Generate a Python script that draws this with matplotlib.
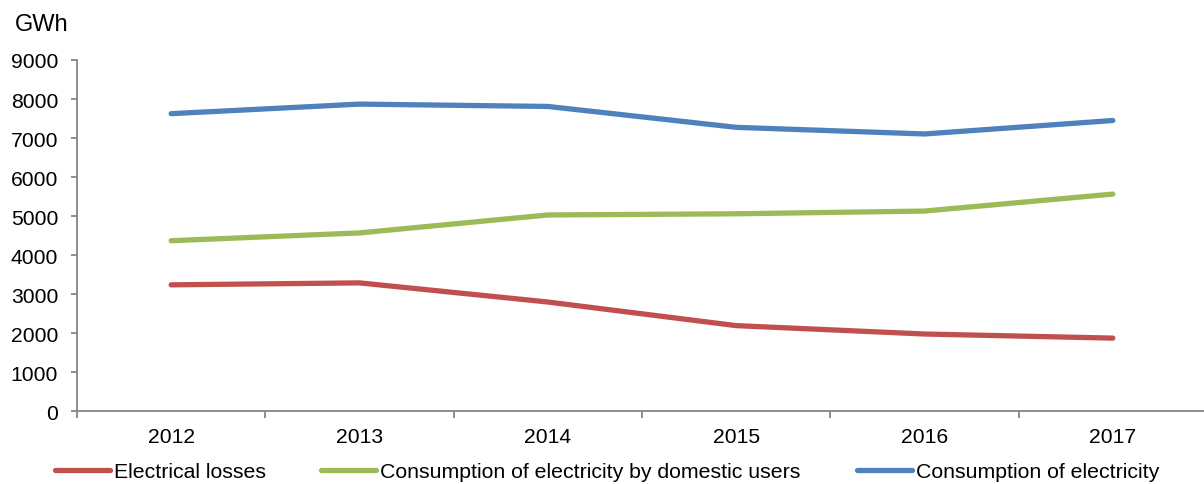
import numpy as np
import matplotlib.pyplot as plt
from matplotlib.ticker import FixedLocator, NullFormatter

plt.rcParams['font.family'] = ['Liberation Sans', 'DejaVu Sans']

years = ["2012", "2013", "2014", "2015", "2016", "2017"]
losses = [3240, 3290, 2800, 2195, 1980, 1875]
domestic = [4370, 4570, 5030, 5060, 5130, 5565]
consumption = [7625, 7870, 7810, 7275, 7105, 7450]

labels = ["Electrical losses",
          "Consumption of electricity by domestic users",
          "Consumption of electricity"]
colors = ["#C0504D", "#9BBB59", "#4F81BD"]

W, H = 1204, 485
fig = plt.figure(figsize=(W / 100, H / 100), dpi=100)
# axes in pixel terms: left 77, bottom y=412, top y=61, right beyond the edge
ax = fig.add_axes([77 / W, (H - 412.3) / H, 1130 / W, (412.3 - 61) / H])

x = np.arange(len(years))
lines = []
for ys, c in zip([losses, domestic, consumption], colors):
    ln, = ax.plot(x, ys, color=c, lw=3.8, solid_capstyle='round',
                  solid_joinstyle='round')
    lines.append(ln)

ax.set_ylim(0, 9000)
ax.set_xlim(-0.5, len(years) - 0.5)
ax.set_yticks(np.arange(0, 9001, 1000))

# tick marks between categories, labels at centres
ax.xaxis.set_major_locator(FixedLocator(np.arange(-0.5, len(years), 1.0)))
ax.xaxis.set_major_formatter(NullFormatter())
ax.xaxis.set_minor_locator(FixedLocator(x))
ax.set_xticklabels(years, minor=True)

axis_col = "#868686"
for s in ["top", "right"]:
    ax.spines[s].set_visible(False)
for s in ["left", "bottom"]:
    ax.spines[s].set_color(axis_col)
    ax.spines[s].set_linewidth(1.3)

ax.tick_params(axis='y', which='major', direction='out', length=4.5, width=1.3,
               color=axis_col, labelsize=15.2, pad=9)
ax.tick_params(axis='x', which='major', direction='out', length=5, width=1.3,
               color=axis_col)
ax.tick_params(axis='x', which='minor', length=0, labelsize=15.2, pad=11.5)

fig.text(15 / W, 1 - 25 / H, "GWh", fontsize=17, ha='left', va='center')

# legend entries placed individually along the bottom
starts = [55, 321, 857]
for ln, lab, xs in zip(lines, labels, starts):
    fig.legend([ln], [lab], loc='center left',
               bbox_to_anchor=(xs / W, 1 - 473 / H),
               frameon=False, fontsize=15.3, handlelength=2.6,
               handletextpad=0.2, borderpad=0, borderaxespad=0)

fig.savefig("out.png", dpi=100)
